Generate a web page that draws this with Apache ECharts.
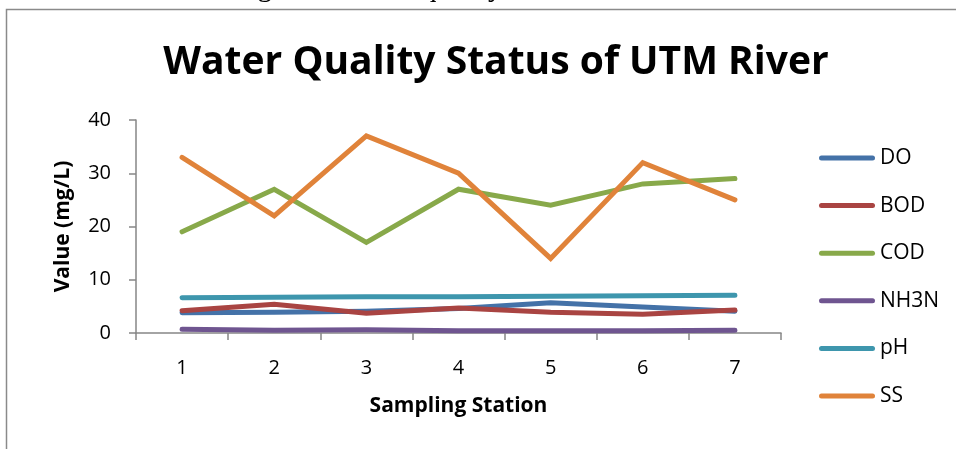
<!DOCTYPE html>
<html>
<head>
<meta charset="utf-8">
<script src="https://cdn.jsdelivr.net/npm/echarts@6/dist/echarts.min.js"></script>
<style>
  html, body { margin: 0; padding: 0; background: #fff; }
  #chart { width: 956px; height: 449px; }
</style>
</head>
<body>
<div id="chart"></div>
<script>
// station numbers on the x axis
const stations = ['1', '2', '3', '4', '5', '6', '7']

// values (mg/L, pH unitless)
const doVals = [3.8, 3.9, 4.1, 4.6, 5.7, 4.9, 4.1]
const bodVals = [4.2, 5.4, 3.7, 4.7, 3.9, 3.5, 4.3]
const codVals = [19, 27, 17, 27, 24, 28, 29]
const nh3nVals = [0.7, 0.5, 0.6, 0.4, 0.4, 0.4, 0.5]
const phVals = [6.6, 6.7, 6.8, 6.8, 6.9, 7.0, 7.1]
const ssVals = [33, 22, 37, 30, 14, 32, 25]

const yTicks = [0, 10, 20, 30, 40]

const seriesList = [
  { name: 'DO', data: doVals, color: '#4472a8' },
  { name: 'BOD', data: bodVals, color: '#a94442' },
  { name: 'COD', data: codVals, color: '#88a94a' },
  { name: 'NH3N', data: nh3nVals, color: '#6f5590' },
  { name: 'pH', data: phVals, color: '#3e96ad' },
  { name: 'SS', data: ssVals, color: '#e0833a' }
]

const font = '"Open Sans", Lato, sans-serif'

const chart = echarts.init(document.getElementById('chart'))
const option = {
  animation: false,
  backgroundColor: '#fff',
  textStyle: { fontFamily: font },
  title: {
    text: 'Water Quality Status of UTM River',
    left: 491,
    top: 38,
    textAlign: 'center',
    textStyle: { fontSize: 39, fontWeight: 'bold', color: '#000', fontFamily: font }
  },
  graphic: [
    {
      // outer border of the figure box
      type: 'rect',
      shape: { x: 6.5, y: 9.5, width: 1000, height: 500 },
      style: { fill: 'none', stroke: '#8a8a8a', lineWidth: 1.5 },
      silent: true
    },
    {
      // caption of the document, cut off at the top
      type: 'text',
      x: 492,
      y: -12,
      style: {
        text: 'Figure 4: Water quality status of UTM River',
        font: '29px "Liberation Serif", serif',
        fill: '#000',
        align: 'center',
        verticalAlign: 'middle'
      },
      silent: true
    }
  ],
  legend: {
    orient: 'vertical',
    left: 814,
    top: 141,
    itemGap: 23.6,
    itemWidth: 56,
    itemHeight: 5,
    icon: 'path://M2.5,0 L53.5,0 A2.5,2.5 0 0 1 53.5,5 L2.5,5 A2.5,2.5 0 0 1 2.5,0 Z',
    textStyle: { fontSize: 21, color: '#000', lineHeight: 24 },
    data: seriesList.map(s => s.name)
  },
  grid: { left: 136, right: 175, top: 120, bottom: 116 },
  xAxis: {
    type: 'category',
    data: stations,
    boundaryGap: true,
    name: 'Sampling Station',
    nameLocation: 'middle',
    nameGap: 63,
    nameTextStyle: { fontSize: 21, fontWeight: 'bold', color: '#000' },
    axisLine: { lineStyle: { color: '#868686', width: 1.5 } },
    axisTick: { show: true, length: 7, lineStyle: { color: '#868686', width: 1.5 } },
    axisLabel: { fontSize: 20, color: '#000', margin: 25 },
    splitLine: { show: false }
  },
  yAxis: {
    type: 'value',
    min: yTicks[0],
    max: yTicks[yTicks.length - 1],
    interval: 10,
    name: 'Value (mg/L)',
    nameLocation: 'middle',
    nameGap: 62,
    nameTextStyle: { fontSize: 21, fontWeight: 'bold', color: '#000' },
    axisLine: { show: true, lineStyle: { color: '#868686', width: 1.5 } },
    axisTick: { show: true, length: 7, lineStyle: { color: '#868686', width: 1.5 } },
    axisLabel: { fontSize: 20, color: '#000', margin: 25 },
    splitLine: { show: false }
  },
  series: seriesList.map(s => ({
    name: s.name,
    type: 'line',
    data: s.data,
    showSymbol: false,
    symbol: 'none',
    itemStyle: { color: s.color },
    lineStyle: { color: s.color, width: 5, cap: 'round', join: 'miter' }
  }))
}
chart.setOption(option)
</script>
</body>
</html>
